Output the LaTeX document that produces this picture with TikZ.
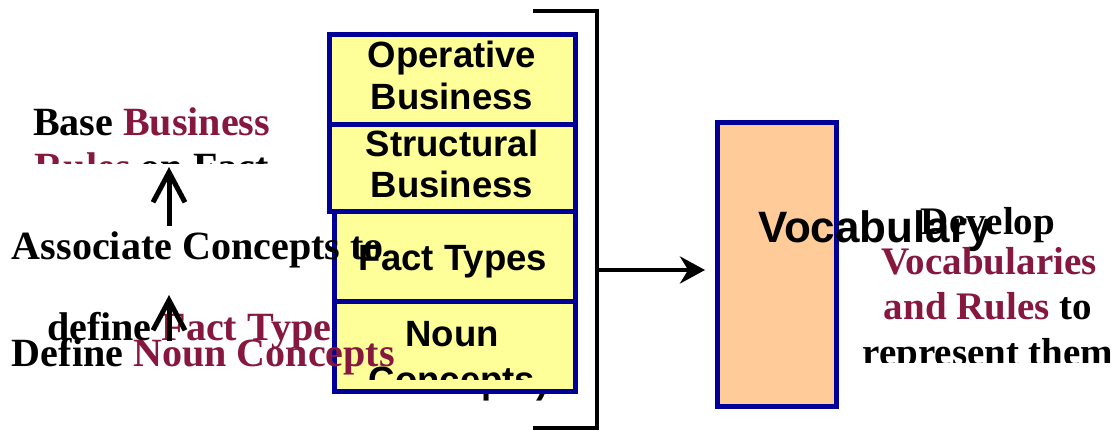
\documentclass[tikz,border=0pt]{standalone}
\usepackage{fontspec}
\setmainfont{Liberation Serif}
\newfontfamily\arialfont{Liberation Sans}
\usetikzlibrary{arrows.meta,positioning}
\definecolor{maroon}{RGB}{134,24,64}
\definecolor{navy}{RGB}{0,0,153}
\definecolor{paleyellow}{RGB}{255,255,153}
\definecolor{peach}{RGB}{255,204,153}

\begin{document}
\begin{tikzpicture}[x=0.2mm,y=-0.2mm,
    every node/.style={inner sep=0pt,outer sep=0pt},
    lefttxt/.style={anchor=base west,font=\fontsize{22.8}{26}\selectfont\bfseries},
    righttxt/.style={anchor=base,font=\fontsize{22.2}{26}\selectfont\bfseries},
    boxtxt/.style={anchor=base,font=\arialfont\fontsize{20.8}{24}\selectfont\bfseries},
    layer/.style={draw=navy,fill=paleyellow,line width=1mm,
      minimum width=49.2mm},
    uparr/.style={-{Straight Barb[length=6mm,width=6.4mm]},line width=1mm}]
  \useasboundingbox (0,0) rectangle (1120,431);

  % rule layers
  \node[layer,minimum height=18mm] (opbox) at (452,80) {};
  \node[layer,minimum height=17.4mm] (stbox) at (452,168.5) {};
  \node[layer,minimum width=48.2mm,minimum height=18mm] (ftbox) at (454.5,257) {};
  \node[layer,minimum width=48.2mm,minimum height=17.8mm] (ncbox) at (454.5,346.5) {};

  \node[boxtxt] (op1) at (452,68) {Operative};
  \node[boxtxt] (op2) at (452,110) {Business};
  \node[boxtxt] (st1) at (452,157) {Structural};
  \node[boxtxt] (st2) at (452,198) {Business};
  \node[boxtxt] (ft) at (453,271) {Fact Types};
  \node[boxtxt] (nc1) at (452,347) {Noun};
  \begin{scope}
    \clip (340,300) rectangle (570,380);
    \node[boxtxt] (nc2) at (452,392) {Concepts};
  \end{scope}
  \begin{scope}
    \clip (340,394) rectangle (570,431);
    \node[boxtxt,anchor=base west] (nc3) at (370,394) {Concepts)};
  \end{scope}

  % bracket and vocabulary
  \draw[line width=0.8mm] (533,11) -| (597,428) -- (533,428);
  \coordinate (brk) at (597,270);
  \node[draw=navy,fill=peach,line width=1mm,minimum width=23.8mm,
    minimum height=56.6mm] (vocab) at (776.5,264.5) {};
  \node[anchor=base west,font=\arialfont\fontsize{25}{30}\selectfont\bfseries]
    (vocabtxt) at (758,243) {Vocabulary};
  \draw[-{Stealth[length=5mm,width=5.4mm]},line width=0.8mm,shorten >=2.4mm]
    (brk) -- (brk -| vocab.west);

  \node[righttxt] (dev1) at (988,235) {Develop};
  \node[righttxt,text=maroon] (dev2) at (989,275) {Vocabularies};
  \node[righttxt] (dev3) at (988,320) {\textcolor{maroon}{and Rules} to};
  \begin{scope}
    \clip (840,330) rectangle (1120,363);
    \node[righttxt] (dev4) at (988,366) {represent them};
  \end{scope}

  % steps on the left
  \node[lefttxt] (base) at (33,136) {Base \textcolor{maroon}{Business}};
  \begin{scope}
    \clip (0,140) rectangle (330,164);
    \node[lefttxt] (rules) at (35,181) {\textcolor{maroon}{Rules} on Fact};
  \end{scope}
  \node[lefttxt] (assoc) at (12,260) {Associate Concepts to};
  \node[lefttxt] (deffact) at (47,341) {define \textcolor{maroon}{Fact Type}};
  \node[lefttxt] (defnoun) at (12,367) {Define \textcolor{maroon}{Noun Concepts}};
  \coordinate (tip1) at (169,167);
  \coordinate (tip2) at (169,295);
  \draw[uparr,shorten <=1.2mm] (assoc.north -| tip1) -- (tip1);
  \draw[uparr] (deffact.base -| tip2) -- (tip2);
\end{tikzpicture}
\end{document}
